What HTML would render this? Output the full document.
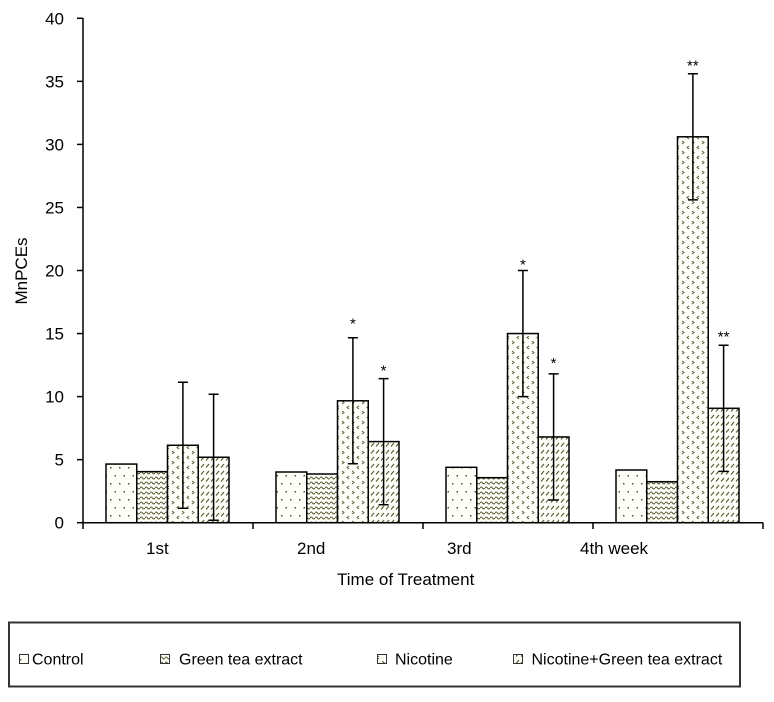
<!DOCTYPE html>
<html>
<head>
<meta charset="utf-8">
<style>
html,body{margin:0;padding:0;background:#fff;}
svg{display:block;}
text{font-family:"Liberation Sans",Arial,sans-serif;fill:#000;}
</style>
</head>
<body>
<svg width="774" height="702" viewBox="0 0 774 702" xmlns="http://www.w3.org/2000/svg">
<defs>
  <pattern id="pC" patternUnits="userSpaceOnUse" width="9" height="16">
    <rect width="9" height="16" fill="#fffffa"/>
    <rect x="2" y="3" width="1.5" height="1.5" fill="#55552f"/>
    <rect x="6.5" y="11" width="1.5" height="1.5" fill="#55552f"/>
  </pattern>
  <pattern id="pG" patternUnits="userSpaceOnUse" width="5" height="5">
    <rect width="5" height="5" fill="#fffffa"/>
    <path d="M0 3 Q1.25 1 2.5 3 T5 3" stroke="#55552f" stroke-width="1.1" fill="none"/>
  </pattern>
  <pattern id="pN" patternUnits="userSpaceOnUse" width="10" height="10">
    <rect width="10" height="10" fill="#fffffa"/>
    <path d="M2 1 L4 2.5 L2 4" stroke="#5f5f3a" stroke-width="1" fill="none"/>
    <path d="M9 6 L7 7.5 L9 9" stroke="#5f5f3a" stroke-width="1" fill="none"/>
  </pattern>
  <pattern id="pX" patternUnits="userSpaceOnUse" width="5" height="7">
    <rect width="5" height="7" fill="#fffffa"/>
    <path d="M1 5.5 L4 2" stroke="#55552f" stroke-width="1.1" fill="none"/>
  </pattern>
</defs>

<!-- Y axis -->
<g stroke="#000" stroke-width="1.5">
  <line x1="83" y1="18" x2="83" y2="523"/>
  <line x1="77" y1="18.3" x2="83" y2="18.3"/>
  <line x1="77" y1="81.35" x2="83" y2="81.35"/>
  <line x1="77" y1="144.4" x2="83" y2="144.4"/>
  <line x1="77" y1="207.45" x2="83" y2="207.45"/>
  <line x1="77" y1="270.5" x2="83" y2="270.5"/>
  <line x1="77" y1="333.55" x2="83" y2="333.55"/>
  <line x1="77" y1="396.6" x2="83" y2="396.6"/>
  <line x1="77" y1="459.65" x2="83" y2="459.65"/>
  <line x1="77" y1="522.7" x2="83" y2="522.7"/>
</g>
<g font-size="17" text-anchor="end">
  <text x="64" y="24.3">40</text>
  <text x="64" y="87.35">35</text>
  <text x="64" y="150.4">30</text>
  <text x="64" y="213.45">25</text>
  <text x="64" y="276.5">20</text>
  <text x="64" y="339.55">15</text>
  <text x="64" y="402.6">10</text>
  <text x="64" y="465.65">5</text>
  <text x="64" y="528.7">0</text>
</g>
<text font-size="17" text-anchor="middle" transform="translate(27,271) rotate(-90)">MnPCEs</text>

<!-- Bars -->
<g stroke="#000" stroke-width="1.5">
  <rect x="106" y="464.06" width="30.75" height="58.64" fill="url(#pC)"/>
  <rect x="136.75" y="471.63" width="30.75" height="51.07" fill="url(#pG)"/>
  <rect x="167.5" y="445.27" width="30.75" height="77.43" fill="url(#pN)"/>
  <rect x="198.25" y="457.25" width="30.75" height="65.45" fill="url(#pX)"/>
  <rect x="276" y="472.0" width="30.75" height="50.7" fill="url(#pC)"/>
  <rect x="306.75" y="474.0" width="30.75" height="48.7" fill="url(#pG)"/>
  <rect x="337.5" y="400.8" width="30.75" height="121.9" fill="url(#pN)"/>
  <rect x="368.25" y="441.6" width="30.75" height="81.1" fill="url(#pX)"/>
  <rect x="446" y="467.3" width="30.75" height="55.4" fill="url(#pC)"/>
  <rect x="476.75" y="477.7" width="30.75" height="45.0" fill="url(#pG)"/>
  <rect x="507.5" y="333.55" width="30.75" height="189.15" fill="url(#pN)"/>
  <rect x="538.25" y="436.95" width="30.75" height="85.75" fill="url(#pX)"/>
  <rect x="616" y="470.0" width="30.75" height="52.7" fill="url(#pC)"/>
  <rect x="646.75" y="481.7" width="30.75" height="41.0" fill="url(#pG)"/>
  <rect x="677.5" y="136.8" width="30.75" height="385.9" fill="url(#pN)"/>
  <rect x="708.25" y="408.3" width="30.75" height="114.4" fill="url(#pX)"/>
</g>

<!-- Error bars -->
<g stroke="#000" stroke-width="1.5" fill="none">
  <path d="M182.9 382.2 V508.3 M177.9 382.2 H187.9 M177.9 508.3 H187.9"/>
  <path d="M213.6 394.2 V520.3 M208.6 394.2 H218.6 M208.6 520.3 H218.6"/>
  <path d="M352.9 337.7 V463.8 M347.9 337.7 H357.9 M347.9 463.8 H357.9"/>
  <path d="M383.6 378.6 V504.7 M378.6 378.6 H388.6 M378.6 504.7 H388.6"/>
  <path d="M522.9 270.5 V396.6 M517.9 270.5 H527.9 M517.9 396.6 H527.9"/>
  <path d="M553.6 373.9 V500.0 M548.6 373.9 H558.6 M548.6 500.0 H558.6"/>
  <path d="M692.9 73.8 V199.9 M687.9 73.8 H697.9 M687.9 199.9 H697.9"/>
  <path d="M723.6 345.3 V471.4 M718.6 345.3 H728.6 M718.6 471.4 H728.6"/>
</g>

<!-- Asterisks -->
<g font-size="15" text-anchor="middle">
  <text x="352.9" y="328.6">*</text>
  <text x="383.6" y="375.3">*</text>
  <text x="522.9" y="269.6">*</text>
  <text x="553.6" y="367.9">*</text>
  <text x="692.9" y="70.3">**</text>
  <text x="723.6" y="341.3">**</text>
</g>

<!-- X axis -->
<g stroke="#000" stroke-width="1.5">
  <line x1="82.3" y1="522.7" x2="763" y2="522.7"/>
  <line x1="83" y1="522.7" x2="83" y2="529"/>
  <line x1="253" y1="522.7" x2="253" y2="529"/>
  <line x1="423" y1="522.7" x2="423" y2="529"/>
  <line x1="593" y1="522.7" x2="593" y2="529"/>
  <line x1="763" y1="522.7" x2="763" y2="529"/>
</g>
<g font-size="17">
  <text x="146" y="554">1st</text>
  <text x="297" y="554">2nd</text>
  <text x="447" y="554">3rd</text>
  <text x="580" y="554">4th week</text>
</g>
<text x="337" y="585" font-size="17">Time of Treatment</text>

<!-- Legend -->
<rect x="9" y="622.5" width="731" height="64" fill="#fff" stroke="#333" stroke-width="2"/>
<g stroke="#333" stroke-width="1">
  <rect x="19.5" y="654.5" width="9" height="9" fill="url(#pC)"/>
  <rect x="160.5" y="654.5" width="9" height="9" fill="url(#pG)"/>
  <rect x="377.5" y="654.5" width="9" height="9" fill="url(#pN)"/>
  <rect x="513.5" y="654.5" width="9" height="9" fill="url(#pX)"/>
</g>
<g font-size="16">
  <text x="32" y="664.5">Control</text>
  <text x="179" y="664.5">Green tea extract</text>
  <text x="395" y="664.5">Nicotine</text>
  <text x="531.5" y="664.5">Nicotine+Green tea extract</text>
</g>
</svg>
</body>
</html>
